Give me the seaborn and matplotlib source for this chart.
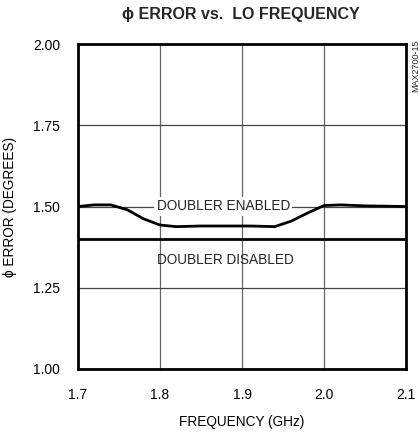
import matplotlib
matplotlib.use("Agg")
import matplotlib.pyplot as plt
import seaborn as sns
import pandas as pd

freq_enabled = [1.70, 1.72, 1.74, 1.76, 1.78, 1.80, 1.82, 1.85, 1.88, 1.91, 1.94, 1.96, 1.98, 2.00, 2.02, 2.05, 2.10]
err_enabled = [1.500, 1.505, 1.505, 1.490, 1.462, 1.443, 1.438, 1.440, 1.440, 1.440, 1.438, 1.455, 1.480, 1.503, 1.505, 1.502, 1.500]
freq_disabled = [1.70, 2.10]
err_disabled = [1.40, 1.40]
x_ticks = [1.7, 1.8, 1.9, 2.0, 2.1]
y_ticks = [1.00, 1.25, 1.50, 1.75, 2.00]

sns.set_theme(style="white")
plt.rcParams['font.family'] = ['Liberation Sans', 'DejaVu Sans']

fig = plt.figure(figsize=(4.2, 4.32), dpi=100)
ax = fig.add_axes([78/420, 63/432, 328/420, 325/432])

df_en = pd.DataFrame({"f": freq_enabled, "e": err_enabled})
df_dis = pd.DataFrame({"f": freq_disabled, "e": err_disabled})

for xv in x_ticks[1:-1]:
    ax.axvline(xv, color="#666666", lw=0.9, zorder=1)
for yv in y_ticks[1:-1]:
    ax.axhline(yv, color="#444444", lw=0.9, zorder=1)

sns.lineplot(data=df_en, x="f", y="e", ax=ax, color="black", lw=2.0, sort=False, zorder=3)
sns.lineplot(data=df_dis, x="f", y="e", ax=ax, color="black", lw=2.0, sort=False, zorder=3)

ax.text(1.877, 1.50, "DOUBLER ENABLED", ha="center", va="center", fontsize=9.8,
        bbox=dict(facecolor="white", edgecolor="none", pad=1.5), zorder=2)
ax.text(1.88, 1.335, "DOUBLER DISABLED", ha="center", va="center", fontsize=9.8, zorder=2)

ax.set_xlim(1.7, 2.1)
ax.set_ylim(1.0, 2.0)
ax.set_xticks(x_ticks)
ax.set_xticklabels([f"{v:.1f}" for v in x_ticks])
ax.set_yticks(y_ticks)
ax.set_yticklabels([f"{v:.2f}" for v in y_ticks])
ax.tick_params(axis="both", length=0, labelsize=10, colors="black")
ax.tick_params(axis="y", pad=13)
ax.tick_params(axis="x", pad=14)
for s in ax.spines.values():
    s.set_visible(True)
    s.set_color("black")
    s.set_linewidth(2.0)

ax.set_xlabel("FREQUENCY (GHz)", fontsize=9.8, labelpad=9, color="black")
ax.set_ylabel("ϕ ERROR (DEGREES)", fontsize=9.8, color="black")
ax.yaxis.set_label_coords(-0.186, 0.5)

fig.text(241/420, 1 - 15/432, "ϕ ERROR vs.  LO FREQUENCY", ha="center", va="center",
         fontsize=11.5, fontweight="bold")
fig.text(416/420, 1 - 66/432, "MAX2700-15", rotation=90, ha="center", va="center", fontsize=6.5)

fig.savefig("out.png", dpi=100)
